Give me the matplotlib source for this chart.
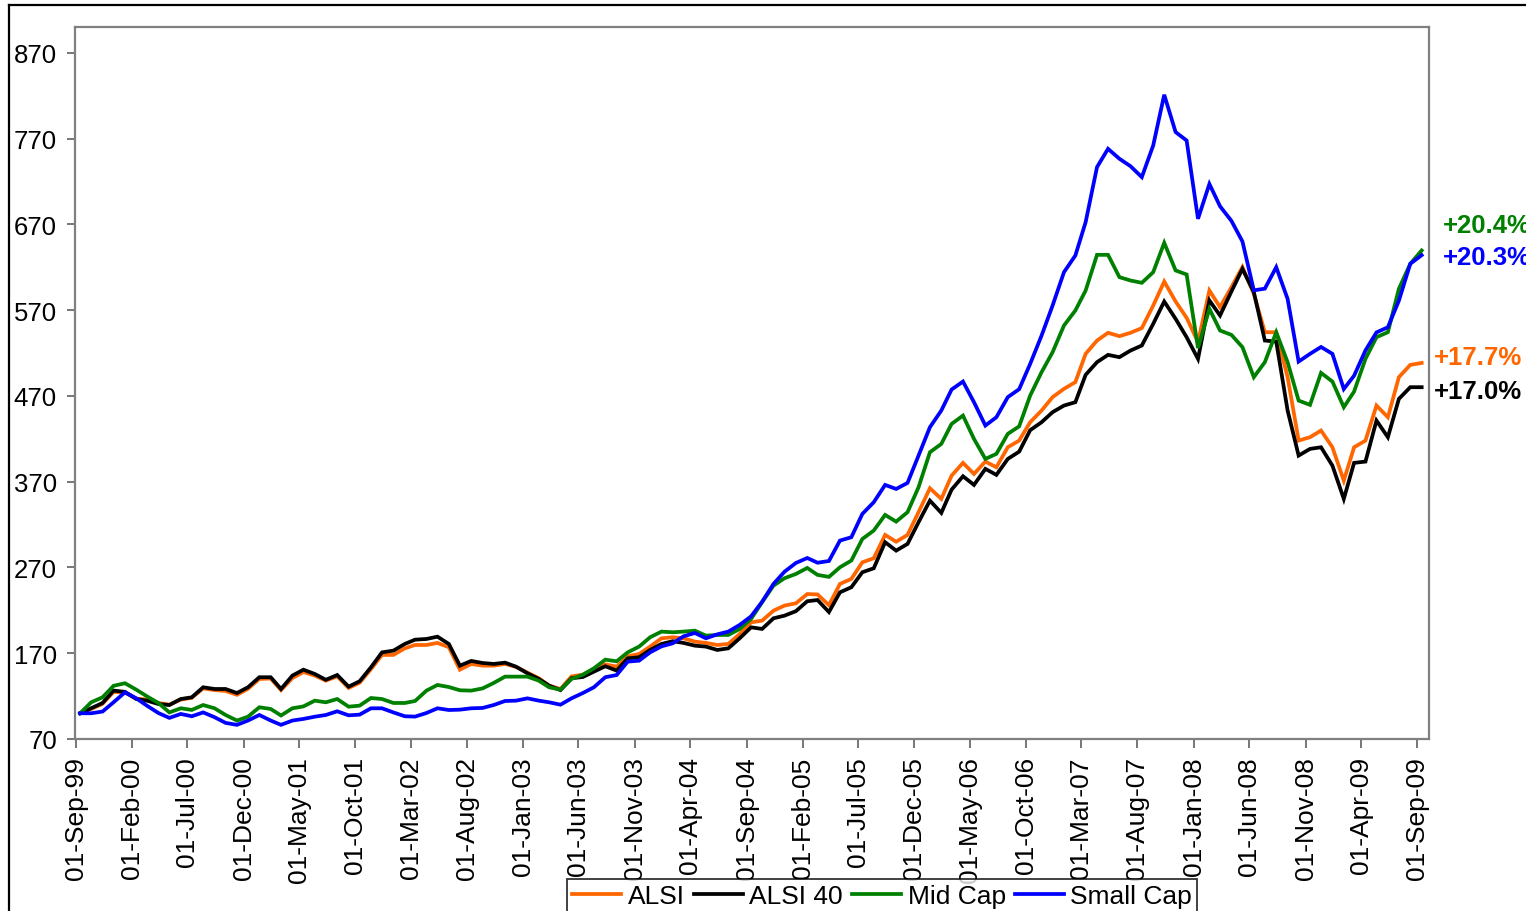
import matplotlib
matplotlib.use("Agg")
import matplotlib.pyplot as plt
import matplotlib.transforms as mtrans
from matplotlib.lines import Line2D
import numpy as np
import pandas as pd

plt.rcParams['font.family'] = ['Liberation Sans', 'DejaVu Sans']

# ---------------- data ----------------
months = pd.date_range('1999-09-01', periods=121, freq='MS')
series_names = ['ALSI', 'ALSI 40', 'Mid Cap', 'Small Cap']

alsi = [100, 105, 111, 125, 124, 117, 116, 112, 110, 116,
        118, 129, 127, 126, 121.5, 128.5, 140, 140.5, 127, 141,
        148, 144, 138, 143, 129.5, 135.5, 151.5, 168, 168, 175.7,
        179.6, 179.6, 182, 177, 150.8, 157.5, 155.5, 155.5, 157.5, 154,
        147.4, 140.8, 132.2, 128.3, 143, 145, 151.6, 157, 154.3, 166.4,
        169.1, 177.7, 187.4, 188.6, 187.4, 183.5, 182, 179.6, 180.8, 192.4,
        206, 208, 219.6, 225.5, 228.2, 239, 238.5, 226, 250.8, 256.6,
        276, 280.7, 307.9, 300, 307.9, 334.4, 362.3, 349.9, 377, 391.9,
        379, 393.4, 386.8, 410.1, 417.9, 439.3, 452.9, 468.5, 478.2, 486,
        519, 534.5, 543.5, 539.6, 543.5, 549, 575.3, 603.3, 580, 561,
        532.6, 592.8, 573.4, 596.7, 620.1, 589, 544.2, 544.2, 491.8, 417.9,
        421.8, 429.6, 410.1, 371.2, 410.1, 417.9, 458.7, 445.1, 491.8, 506.1,
        508.4]

alsi40 = [100, 105.8, 112, 126.4, 125, 116.6, 114.7, 110.8, 109.6, 116.6,
          118.6, 130.3, 128.3, 128.3, 123.6, 130.3, 142, 142, 128.3, 143.9,
          150.8, 145.8, 139, 144.6, 131, 137.3, 153.6, 171, 173, 180.8,
          185.8, 186.6, 189.3, 180.8, 155.5, 161, 158.6, 157.5, 159, 154.3,
          146.6, 140, 132.2, 127, 140.8, 142.3, 148.5, 154.8, 149.7, 164,
          165.3, 173.8, 180.8, 184, 182, 178.8, 177.7, 173.8, 175.7, 187.4,
          200.2, 198.3, 210.7, 213.8, 219, 230.6, 232, 218, 241, 246.9,
          264.4, 269, 299.4, 289.6, 297.4, 322.7, 347.9, 333.6, 360.7, 376.3,
          366.2, 384.9, 377.9, 396.5, 405, 430, 439.3, 451, 458.7, 462.6,
          494.5, 509.3, 517.8, 515.1, 522.8, 528.7, 554, 580, 559.8, 538.4,
          513.1, 581.2, 563.7, 591.7, 618.1, 590.9, 534.5, 533.3, 452.9, 400.4,
          408.2, 410.1, 388.7, 349.9, 391.9, 393.4, 441.2, 421.8, 466.5, 480.1,
          480.1]

midcap = [100, 112.8, 118.6, 132, 135, 127.5, 119.7, 112, 101, 105.8,
          103.9, 109.6, 105.8, 98, 91.5, 96, 107, 105, 97.4, 105.8,
          108, 114.7, 112.8, 116.6, 107.7, 108.9, 117.8, 116.6, 112, 112,
          114.3, 126.4, 133, 130.6, 126.8, 126.4, 129, 135.3, 142.7, 142.7,
          142.7, 138, 130.3, 127.5, 140, 145, 152.4, 162.5, 160.6, 171,
          177.7, 188.6, 195.2, 194.4, 195.2, 196.3, 190.5, 191.3, 191.3, 198.3,
          210, 229.4, 248.8, 257.4, 262.4, 269.4, 261.3, 259, 270.2, 278,
          303.2, 313, 331.2, 323.4, 334.4, 363.5, 404.3, 414, 437.3, 447,
          419.8, 396.5, 402.4, 425.7, 434.5, 470.4, 497.6, 520.9, 552, 569.5,
          592.8, 634.4, 634.4, 608.4, 604.5, 601.8, 614.2, 648.4, 616.2, 611.5,
          525.8, 571.5, 546.2, 541.1, 526.8, 491.8, 509.3, 544.2, 509.3, 464.5,
          459.5, 496.8, 486.7, 456.8, 475, 513.1, 538.4, 544.2, 594.8, 623.9,
          639.5]

smallcap = [100, 100, 102, 112.8, 124.4, 117.4, 108.8, 100.3, 94.6, 99.2,
            96.5, 101, 95.4, 88.8, 86.5, 91.5, 98, 91.5, 86.5, 91.5,
            93.4, 96, 98, 102.3, 97.6, 98.4, 105.8, 105.8, 101, 96.5,
            96.1, 100.3, 105.8, 103.8, 104.2, 105.8, 106.2, 109.6, 114.3, 114.7,
            117.4, 114.7, 112.8, 110, 117.4, 123.6, 130.3, 142, 144.6, 160.2,
            161.3, 171, 178, 181.6, 189.7, 193.6, 187.4, 192, 195.2, 203,
            213, 230, 250.8, 265, 275.2, 281, 275.5, 277.5, 301.3, 305.2,
            332.4, 346, 366.2, 361.5, 368.5, 400.4, 433.5, 452.9, 477.4, 486.7,
            462.6, 435.4, 445.1, 468.5, 477.8, 507.3, 540.3, 575.3, 614.2, 633.6,
            672.5, 736.7, 758, 746.4, 737.8, 725, 761.9, 821, 777.5, 767.7,
            676.4, 717, 691, 674, 650, 593, 595, 620, 583, 510,
            519, 527, 519, 478, 493.5, 523, 544, 550, 581, 624,
            634]

tick_labels = ['01-Sep-99', '01-Feb-00', '01-Jul-00', '01-Dec-00', '01-May-01',
               '01-Oct-01', '01-Mar-02', '01-Aug-02', '01-Jan-03', '01-Jun-03',
               '01-Nov-03', '01-Apr-04', '01-Sep-04', '01-Feb-05', '01-Jul-05',
               '01-Dec-05', '01-May-06', '01-Oct-06', '01-Mar-07', '01-Aug-07',
               '01-Jan-08', '01-Jun-08', '01-Nov-08', '01-Apr-09', '01-Sep-09']

growth_labels = ['+17.7%', '+17.0%', '+20.4%', '+20.3%']
growth_label_y = [515, 476, 669, 632]
colors = ['#FF6600', '#000000', '#008000', '#0000FF']

# ---------------- figure ----------------
W, H = 1526, 912
fig = plt.figure(figsize=(W / 100, H / 100), dpi=100)
fig.patch.set_facecolor('white')

left_px, right_px, top_px, bot_px = 75, 1429, 28, 740
ax = fig.add_axes([left_px / W, 1 - bot_px / H,
                   (right_px - left_px) / W, (bot_px - top_px) / H])

data_dates = months + pd.Timedelta(days=12)
lines = []
for vals, name, c in zip([alsi, alsi40, midcap, smallcap], series_names, colors):
    ln, = ax.plot(data_dates, vals, color=c, lw=2.7, label=name,
                  solid_joinstyle='miter')
    lines.append(ln)

tick_dates = pd.to_datetime(tick_labels, format='%d-%b-%y')
ax.set_xticks(tick_dates)
ax.set_xticklabels(tick_labels, rotation=90, fontsize=19, va='top', ha='center')
ax.set_xlim(pd.Timestamp('1999-08-30'), pd.Timestamp('2009-10-03'))

ax.set_ylim(70, 900)
ax.set_yticks(np.arange(70, 871, 100))
ax.tick_params(axis='y', labelsize=18.5, length=6, width=1.2, direction='out',
               pad=7, color='#606060')
ax.tick_params(axis='x', length=6.5, width=1.2, direction='out', pad=6,
               color='#606060')

for side, sp in ax.spines.items():
    sp.set_color('#808080')
    sp.set_linewidth(1.6)

# end-value labels (the reference also cuts the two upper ones at the image edge)
trans = mtrans.blended_transform_factory(ax.transAxes, ax.transData)
x_off = [1.0037, 1.0037, 1.0103, 1.0103]
for lab, yv, c, xo in zip(growth_labels, growth_label_y, colors, x_off):
    ax.text(xo, yv, lab, transform=trans, color=c, fontsize=18.5,
            fontweight='bold', ha='left', va='center', clip_on=False)

# legend
leg = fig.legend(handles=lines, labels=series_names, loc='upper left',
                 bbox_to_anchor=(567 / W, 1 - 880 / H), ncol=4, fontsize=19,
                 frameon=True, fancybox=False, edgecolor='black',
                 handlelength=1.85, handletextpad=0.25, columnspacing=0.35,
                 borderpad=0.2, borderaxespad=0)
leg.get_frame().set_linewidth(1.3)

# outer chart border (extends beyond the image to the right and bottom)
fig.add_artist(Line2D([9 / W, 1.01], [1 - 6 / H, 1 - 6 / H],
                      transform=fig.transFigure, color='black', lw=1.6))
fig.add_artist(Line2D([9 / W, 9 / W], [1 - 6 / H, -0.01],
                      transform=fig.transFigure, color='black', lw=1.6))

fig.savefig('out.png', dpi=100)
